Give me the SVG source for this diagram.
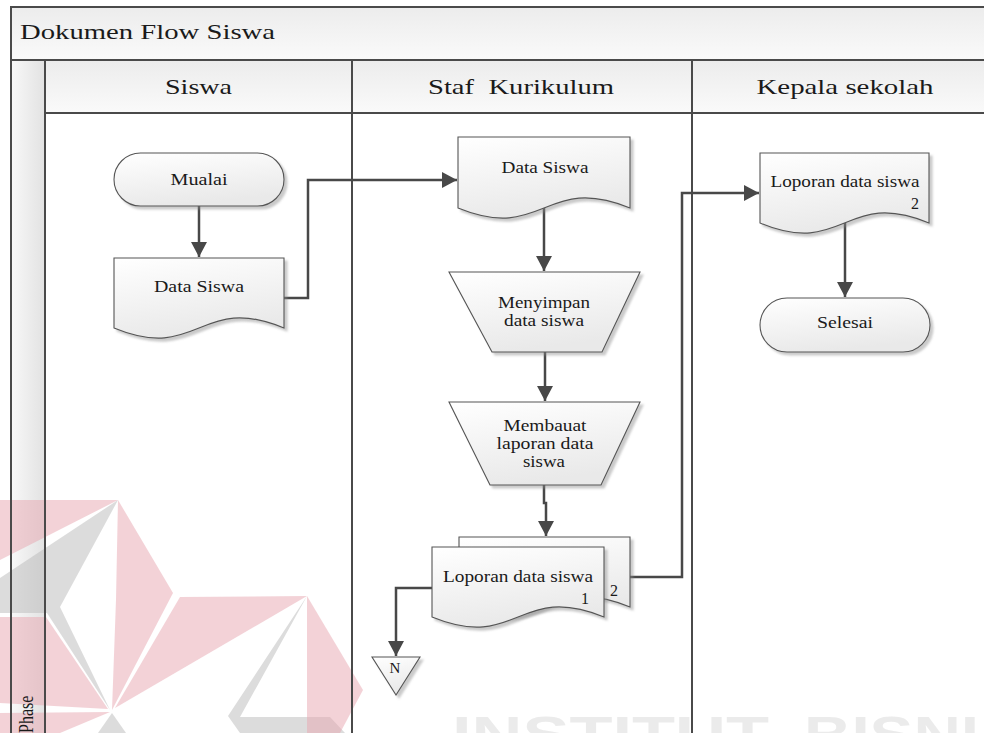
<svg xmlns="http://www.w3.org/2000/svg" width="984" height="733" viewBox="0 0 984 733">
<defs>
<linearGradient id="hdr" x1="0" y1="0" x2="0" y2="1"><stop offset="0" stop-color="#ececec"/><stop offset="1" stop-color="#fafafa"/></linearGradient>
<linearGradient id="phase" x1="0" y1="0" x2="1" y2="0"><stop offset="0" stop-color="#f8f8f8"/><stop offset="1" stop-color="#e2e2e2"/></linearGradient>
<linearGradient id="node" x1="0" y1="0" x2="0.3" y2="1"><stop offset="0" stop-color="#ffffff"/><stop offset="1" stop-color="#e9e9e9"/></linearGradient>
<filter id="sh" x="-10%" y="-10%" width="130%" height="130%"><feDropShadow dx="3" dy="3" stdDeviation="1.2" flood-color="#8a8a8a" flood-opacity="0.45"/></filter>
<marker id="ah" viewBox="0 0 15 16" refX="15" refY="8" markerWidth="15" markerHeight="16" markerUnits="userSpaceOnUse" orient="auto"><path d="M0,0 L15,8 L0,16 Z" fill="#484848"/></marker>
<style>
.t{font-family:"Liberation Serif","Times New Roman",serif;fill:#1a1a1a}
.h{font-size:22px}
.n{font-size:16px}
.frame{stroke:#4a4a4a;stroke-width:2;fill:none}
.shape{fill:url(#node);stroke:#555;stroke-width:1.1;filter:url(#sh)}
.conn{fill:none;stroke:#484848;stroke-width:2.5}
.wp{fill:#e8a6b0;opacity:0.5}
.wg{fill:#bababa;opacity:0.5}
.wt{font-family:"Liberation Sans",Arial,sans-serif;font-weight:bold;font-size:50px;fill:#d8d8d8;opacity:0.5}
</style>
</defs>
<rect width="984" height="733" fill="#ffffff"/>
<g id="pool">
<rect x="11" y="7" width="973" height="53" fill="url(#hdr)"/>
<rect x="45" y="60" width="939" height="53" fill="url(#hdr)"/>
<rect x="11" y="60" width="34" height="673" fill="url(#phase)"/>
</g>
<g id="watermark">
<polygon class="wp" points="0,500 118,500 0,560"/>
<polygon class="wg" points="118,500 0,578 0,613 47,613 110,710 60,607"/>
<polygon class="wp" points="118,500 173,593 112,710 116,600"/>
<polygon class="wp" points="180,597 307,596 115,708"/>
<polygon class="wg" points="307,596 228,716 240,733 345,733 330,717 240,717"/>
<polygon class="wp" points="307,596 363,690 340,733 307,733"/>
<polygon class="wp" points="0,617 46,617 108,709 0,703"/>
<polygon class="wp" points="0,713 110,712 60,733 0,733"/>
<polygon class="wg" points="112,713 98,733 126,733"/>
<text class="wt" x="452" y="752" textLength="317" lengthAdjust="spacingAndGlyphs">INSTITUT</text>
<text class="wt" x="804" y="752" textLength="175" lengthAdjust="spacingAndGlyphs">BISNI</text>
</g>
<g id="lanes">
<path class="frame" d="M11,733 V7 H984"/>
<path class="frame" d="M11,60 H984"/>
<path class="frame" d="M45,113 H984"/>
<path class="frame" d="M45,60 V733"/>
<path class="frame" d="M352,60 V733"/>
<path class="frame" d="M692,60 V733"/>
<text class="t h" x="20" y="39" textLength="255" lengthAdjust="spacingAndGlyphs">Dokumen Flow Siswa</text>
<text class="t h" x="198.5" y="94" text-anchor="middle" textLength="67" lengthAdjust="spacingAndGlyphs">Siswa</text>
<text class="t h" x="521" y="94" text-anchor="middle" textLength="186" lengthAdjust="spacingAndGlyphs" style="white-space:pre">Staf  Kurikulum</text>
<text class="t h" x="845" y="94" text-anchor="middle" textLength="177" lengthAdjust="spacingAndGlyphs">Kepala sekolah</text>
<text class="t" font-size="16" transform="translate(33,733) scale(1.3,1) rotate(-90)">Phase</text>
</g>
<g id="connectors">
<path class="conn" d="M199,206 V257" marker-end="url(#ah)"/>
<path class="conn" d="M284,298 H308 V180 H457" marker-end="url(#ah)"/>
<path class="conn" d="M544,208 V271" marker-end="url(#ah)"/>
<path class="conn" d="M545,352 V401" marker-end="url(#ah)"/>
<path class="conn" d="M544,485 V503 H546 V536" marker-end="url(#ah)"/>
<path class="conn" d="M630,577 H682 V193 H759" marker-end="url(#ah)"/>
<path class="conn" d="M432,588 H396 V656" marker-end="url(#ah)"/>
<path class="conn" d="M845,223 V297" marker-end="url(#ah)"/>
</g>
<g id="mulai">
<rect class="shape" x="114" y="153" width="170" height="53" rx="26.5"/>
<text class="t n" x="199" y="185" text-anchor="middle" textLength="57" lengthAdjust="spacingAndGlyphs">Mualai</text>
</g>
<g id="data-siswa-1">
<path class="shape" d="M114,258 H284 V328 C199,293 199,363 114,328 Z"/>
<text class="t n" x="199" y="292" text-anchor="middle" textLength="90" lengthAdjust="spacingAndGlyphs">Data Siswa</text>
</g>
<g id="data-siswa-2">
<path class="shape" d="M458,137 H630 V208 C544,173 544,243 458,208 Z"/>
<text class="t n" x="545" y="173" text-anchor="middle" textLength="87" lengthAdjust="spacingAndGlyphs">Data Siswa</text>
</g>
<g id="menyimpan">
<polygon class="shape" points="449,272 640,272 602,352 492,352"/>
<text class="t n" x="544" y="308" text-anchor="middle" textLength="92" lengthAdjust="spacingAndGlyphs">Menyimpan</text>
<text class="t n" x="544" y="326" text-anchor="middle" textLength="80" lengthAdjust="spacingAndGlyphs">data siswa</text>
</g>
<g id="membuat">
<polygon class="shape" points="449,402 640,402 601,485 490,485"/>
<text class="t n" x="545" y="431" text-anchor="middle" textLength="83" lengthAdjust="spacingAndGlyphs">Membauat</text>
<text class="t n" x="545" y="449" text-anchor="middle" textLength="97" lengthAdjust="spacingAndGlyphs">laporan data</text>
<text class="t n" x="544" y="467" text-anchor="middle" textLength="42" lengthAdjust="spacingAndGlyphs">siswa</text>
</g>
<g id="laporan-multi">
<path class="shape" d="M459,537 H630 V607 C544.5,572 544.5,642 459,607 Z"/>
<path class="shape" d="M432,547 H604 V617 C518,582 518,652 432,617 Z"/>
<text class="t n" x="518" y="582" text-anchor="middle" textLength="150" lengthAdjust="spacingAndGlyphs">Loporan data siswa</text>
<text class="t n" x="585" y="604" text-anchor="middle">1</text>
<text class="t n" x="614" y="596" text-anchor="middle">2</text>
</g>
<g id="offpage-n">
<polygon class="shape" points="372,657 420,657 396,695"/>
<text class="t" font-size="15" x="395" y="673" text-anchor="middle">N</text>
</g>
<g id="laporan-kepsek">
<path class="shape" d="M760,153 H929 V223 C844.5,188 844.5,258 760,223 Z"/>
<text class="t n" x="845" y="187" text-anchor="middle" textLength="149" lengthAdjust="spacingAndGlyphs">Loporan data siswa</text>
<text class="t n" x="915" y="209" text-anchor="middle">2</text>
</g>
<g id="selesai">
<rect class="shape" x="760" y="298" width="170" height="54" rx="27"/>
<text class="t n" x="845" y="328" text-anchor="middle" textLength="56" lengthAdjust="spacingAndGlyphs">Selesai</text>
</g>
</svg>
